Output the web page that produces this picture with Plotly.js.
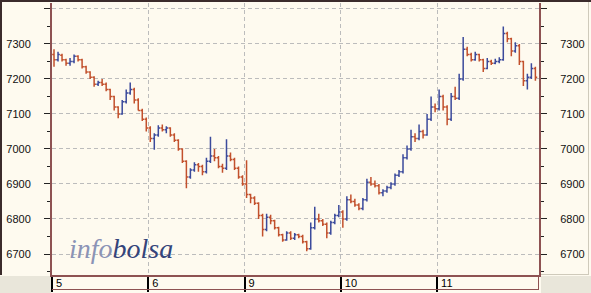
<!DOCTYPE html>
<html>
<head>
<meta charset="utf-8">
<script src="https://cdn.plot.ly/plotly-3.0.1.min.js"></script>
<style>
html,body{margin:0;padding:0;background:#fefaef;}
#chart{width:591px;height:293px;}
</style>
</head>
<body>
<div id="chart"></div>
<script>
// Day tick labels and bar index where each day starts
const dayLabels = ["5", "6", "9", "10", "11"];
const dayStarts = [0, 24, 48, 72, 96];

// Price axis ticks (the top tick carries no label)
const yTickVals = [6700, 6800, 6900, 7000, 7100, 7200, 7300, 7400];
const yTickText = ["6700", "6800", "6900", "7000", "7100", "7200", "7300", ""];

// OHLC values, one bar per ~4 px of the reference
const opens = [
 7270,7255,7268,7255,7245,7250,7265,7255,7235,7220,7205,7185,7190,7185,7170,7150,7120,7100,7135,7160,7170,7140,7110,7085,
 7060,7030,7040,7060,7055,7060,7040,7025,7000,6965,6920,6940,6955,6950,6935,6965,6980,6975,6950,6945,6980,6970,6945,6920,
 6900,6870,6860,6845,6810,6770,6805,6795,6775,6755,6740,6760,6745,6755,6750,6735,6715,6775,6800,6795,6785,6760,6790,6810,
 6820,6800,6855,6850,6840,6830,6855,6905,6900,6895,6875,6880,6890,6900,6925,6935,6975,7000,7035,7030,7050,7040,7085,7120,
 7115,7150,7120,7085,7150,7145,7200,7285,7270,7255,7270,7255,7230,7250,7245,7250,7255,7330,7315,7280,7295,7250,7195,7205,7230
];
const highs = [
 7285,7278,7272,7258,7260,7270,7268,7258,7238,7222,7208,7195,7200,7190,7172,7152,7122,7140,7170,7190,7175,7145,7115,7090,
 7065,7045,7068,7070,7065,7062,7045,7028,7002,6968,6945,6962,6960,6955,6975,7035,7000,6980,6958,7028,6990,6975,6950,6925,
 6968,6872,6865,6848,6815,6815,6812,6798,6778,6758,6765,6765,6760,6758,6755,6738,6790,6835,6815,6800,6790,6795,6815,6840,
 6825,6865,6870,6858,6845,6860,6915,6920,6910,6900,6885,6895,6905,6930,6940,6985,7010,7055,7045,7070,7055,7100,7150,7130,
 7170,7155,7125,7160,7178,7215,7320,7292,7275,7278,7272,7258,7260,7255,7258,7262,7350,7335,7318,7305,7300,7252,7215,7245,7235
];
const lows = [
 7235,7250,7250,7238,7238,7245,7250,7230,7215,7200,7178,7180,7180,7165,7140,7110,7088,7098,7130,7155,7130,7110,7080,7050,
 7020,6998,7035,7050,7045,7035,7020,6995,6960,6888,6915,6935,6935,6925,6930,6960,6965,6945,6932,6940,6965,6940,6915,6895,
 6860,6845,6840,6800,6750,6765,6785,6770,6750,6735,6738,6740,6740,6745,6730,6708,6712,6770,6790,6780,6745,6755,6785,6805,
 6775,6795,6845,6835,6825,6825,6850,6895,6890,6870,6865,6875,6885,6895,6920,6930,6970,6995,7020,7025,7030,7038,7080,7105,
 7110,7110,7068,7080,7140,7140,7195,7265,7250,7252,7250,7220,7228,7240,7242,7245,7252,7305,7265,7275,7240,7180,7170,7200,7195
];
const closes = [
 7255,7270,7255,7245,7250,7265,7255,7235,7220,7205,7185,7190,7185,7170,7150,7120,7100,7135,7160,7170,7140,7110,7085,7060,
 7030,7040,7060,7055,7060,7040,7025,7000,6965,6920,6940,6955,6950,6935,6965,6980,6975,6950,6945,6980,6970,6945,6920,6900,
 6870,6860,6845,6810,6770,6805,6795,6775,6755,6740,6760,6745,6755,6750,6735,6715,6775,6800,6795,6785,6760,6790,6810,6820,
 6800,6855,6850,6840,6830,6855,6905,6900,6895,6875,6880,6890,6900,6925,6935,6975,7000,7035,7030,7050,7040,7085,7120,7115,
 7150,7120,7085,7150,7145,7200,7285,7270,7255,7270,7255,7230,7250,7245,7250,7255,7330,7315,7280,7295,7250,7195,7205,7230,7205
];

const xs = closes.map((_, i) => i);
const tickPos = dayStarts.map(d => d - 0.5);

const cream = '#fefaef';
const brown = '#8e5252';
const grey = '#e9e6da';
const dark = '#3b2b2b';

const PW = 487, PH = 272; // plot size in px for paper conversions
const px = v => (v - 52) / PW;
const py = v => (275 - v) / PH;

const traces = [
  {
    type: 'ohlc', x: xs, open: opens, high: highs, low: lows, close: closes,
    xaxis: 'x', yaxis: 'y',
    increasing: {line: {color: '#3b4a9c', width: 1.5}},
    decreasing: {line: {color: '#c2502c', width: 1.5}},
    tickwidth: 0.45, hoverinfo: 'skip', showlegend: false
  },
  {type: 'scatter', mode: 'markers', x: [], y: [], xaxis: 'x2', yaxis: 'y2', showlegend: false, hoverinfo: 'skip'}
];

const yRange = [6640, 7417];
const xRange = [-0.5, 120.9];
const tickFont = {family: 'Liberation Sans, Arial, sans-serif', size: 11, color: '#111'};

const yCommon = {
  range: yRange, tickmode: 'array', tickvals: yTickVals, ticktext: yTickText,
  ticks: 'outside', ticklen: 6, tickwidth: 1, tickcolor: '#222',
  minor: {dtick: 50, tick0: 0, ticks: 'outside', ticklen: 3, tickcolor: '#222', showgrid: false},
  showline: true, linecolor: brown, linewidth: 2, zeroline: false, tickfont: tickFont,
  ticklabelstandoff: 11, fixedrange: true
};

const layout = {
  width: 591, height: 293,
  margin: {l: 52, r: 52, t: 3, b: 18, pad: 0},
  paper_bgcolor: cream, plot_bgcolor: cream,
  showlegend: false,
  xaxis: {
    range: xRange, tickvals: tickPos, showticklabels: false,
    ticks: 'outside', ticklen: 15, tickwidth: 2, tickcolor: '#000',
    showgrid: true, gridcolor: '#bcbcbc', griddash: '4px,3px', gridwidth: 1,
    showline: true, linecolor: brown, linewidth: 2, zeroline: false,
    rangeslider: {visible: false}, fixedrange: true
  },
  xaxis2: {
    overlaying: 'x', matches: 'x', anchor: 'y', side: 'bottom', range: xRange,
    tickvals: tickPos, ticktext: dayLabels, ticks: '', ticklabelposition: 'outside right',
    ticklabelshift: 4,
    showgrid: false, showline: false, zeroline: false, tickfont: {family: 'Liberation Sans, Arial, sans-serif', size: 11, color: '#000'},
    fixedrange: true
  },
  yaxis: Object.assign({}, yCommon, {side: 'left', showgrid: true, gridcolor: '#bcbcbc', griddash: '4px,3px'}),
  yaxis2: Object.assign({}, yCommon, {side: 'right', overlaying: 'y', matches: 'y', anchor: 'x', showgrid: false}),
  shapes: [
    {type: 'rect', xref: 'paper', yref: 'paper', x0: px(0), x1: px(51), y0: py(276), y1: py(293), fillcolor: grey, line: {width: 0}, layer: 'below'},
    {type: 'rect', xref: 'paper', yref: 'paper', x0: px(541), x1: px(591), y0: py(276), y1: py(293), fillcolor: grey, line: {width: 0}, layer: 'below'},
    {type: 'line', xref: 'paper', yref: 'paper', x0: px(52), x1: px(539), y0: py(289.5), y1: py(289.5), line: {color: brown, width: 1}},
    {type: 'line', xref: 'paper', yref: 'paper', x0: px(538.5), x1: px(538.5), y0: py(275), y1: py(289.5), line: {color: brown, width: 1}},
    {type: 'line', xref: 'paper', yref: 'paper', x0: px(588.5), x1: px(588.5), y0: py(0), y1: py(274), line: {color: '#cfcabb', width: 1}},
    {type: 'line', xref: 'paper', yref: 'paper', x0: px(541), x1: px(589), y0: py(274.5), y1: py(274.5), line: {color: '#cfcabb', width: 1}},
    {type: 'rect', xref: 'paper', yref: 'paper', x0: px(0), x1: px(591), y0: py(2), y1: py(0), fillcolor: dark, line: {width: 0}},
    {type: 'rect', xref: 'paper', yref: 'paper', x0: px(0), x1: px(2), y0: py(275), y1: py(0), fillcolor: dark, line: {width: 0}}
  ],
  annotations: [
    {
      xref: 'paper', yref: 'paper', x: px(67), y: py(248), xanchor: 'left', yanchor: 'middle',
      text: "<i><span style='color:#8b93b6'>info</span><span style='color:#34447a'>bolsa</span></i>",
      showarrow: false, font: {family: 'Liberation Serif, Times New Roman, serif', size: 28}
    }
  ]
};

Plotly.newPlot('chart', traces, layout, {displayModeBar: false, staticPlot: true});
</script>
</body>
</html>
